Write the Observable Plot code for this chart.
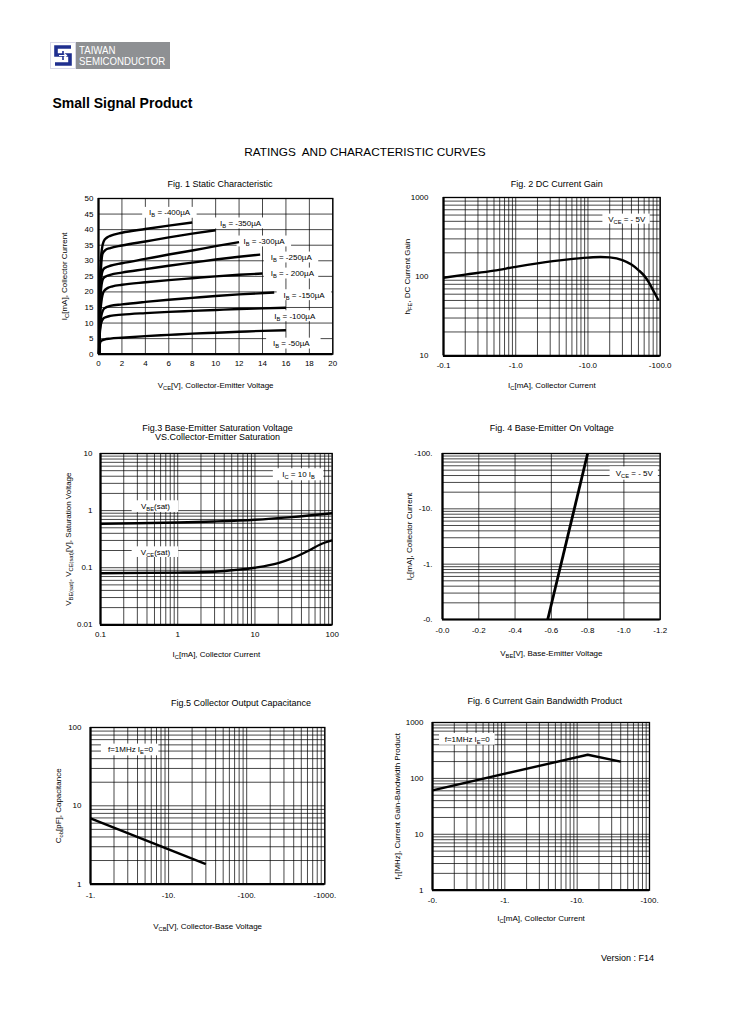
<!DOCTYPE html>
<html><head><meta charset="utf-8">
<script src="https://cdn.jsdelivr.net/npm/d3@7"></script>
<script src="https://cdn.jsdelivr.net/npm/@observablehq/plot@0.6"></script>
<style>
body{margin:0;background:#fff;font-family:"Liberation Sans",Arial,sans-serif;color:#000;}
#page{position:relative;width:729px;height:1032px;overflow:hidden;background:#fff;}
.t{position:absolute;white-space:pre;line-height:1;transform:translate(-50%,-50%);text-align:center;}
</style></head><body><div id="page"></div>
<script>
// ---------- DATA ----------
// Fig.1 static characteristic: [VCE (V), IC (mA)] per base current
const ibNames = ["-400µA","-350µA","-300µA","-250µA","- 200µA","-150µA","-100µA","-50µA"];
const ib400 = [[0.05,0],[0.1,18],[0.2,30],[0.3,34],[0.45,36.3],[0.7,37.4],[1,38],[2,39],[4,40.2],[6,41.3],[8,42.3]];
const ib350 = [[0.05,0],[0.12,17],[0.22,28],[0.35,32.3],[0.6,33.5],[1,34.1],[2,34.9],[4,36.2],[6,37.5],[8,38.7],[10,39.8]];
const ib300 = [[0.05,0],[0.12,15],[0.22,24],[0.4,27.2],[0.7,28],[1,28.4],[2,29.2],[4,30.6],[6,32],[8,33.3],[10,34.7],[12,36]];
const ib250 = [[0.05,0],[0.12,14],[0.22,21],[0.4,24.3],[0.7,25.1],[1,25.5],[2,26.2],[4,27.3],[6,28.4],[8,29.4],[10,30.4],[12,31.3],[13.8,32]];
const ib200 = [[0.05,0],[0.12,11],[0.25,17],[0.45,20.2],[0.8,21.3],[1.2,21.8],[2,22.3],[4,23.1],[6,23.8],[8,24.4],[10,25],[12,25.5],[14,25.9]];
const ib150 = [[0.05,0],[0.12,8],[0.25,12.5],[0.5,14.7],[1,15.5],[2,16],[4,16.8],[6,17.5],[8,18.1],[10,18.7],[12,19.2],[15,19.8]];
const ib100 = [[0.05,0],[0.1,6],[0.2,9.5],[0.4,11.4],[0.7,12],[1,12.3],[2,12.7],[4,13.2],[6,13.6],[8,13.9],[10,14.2],[12,14.5],[14,14.7],[16,14.9]];
const ib50  = [[0.05,0],[0.1,3],[0.2,4.2],[0.5,4.7],[1,5],[2,5.3],[4,5.8],[6,6.2],[8,6.6],[10,6.9],[12,7.2],[14,7.5],[16,7.7]];
const ibLabelX = [4.32,10.38,12.38,14.7,14.7,15.8,15.0,14.9];
const ibLabelY = [45.4,42.0,36.2,31.05,25.9,18.95,12.2,3.4];
const fig1XTicks = [0,2,4,6,8,10,12,14,16,18,20];
const fig1YTicks = [0,5,10,15,20,25,30,35,40,45,50];

// Fig.2 DC current gain: [IC (mA), hFE]
const hfe = [[0.1,97],[0.2,106],[0.5,119],[1,133],[2,147],[5,164],[10,174],[15,177],[20,175],[30,162],[40,142],[50,121],[60,103],[70,84],[80,67],[95,50]];
const fig2XTicks = [0.1,1,10,100], fig2XLabels = ["-0.1","-1.0","-10.0","-100.0"];
const fig2YTicks = [10,100,1000], fig2YLabels = ["10","100","1000"];

// Fig.3 saturation voltages: [IC (mA), V]
const vbeSat = [[0.1,0.59],[0.3,0.6],[1,0.62],[3,0.645],[10,0.69],[30,0.77],[100,0.9]];
const vceSat = [[0.1,0.08],[1,0.082],[3,0.085],[5,0.09],[10,0.1],[20,0.12],[30,0.145],[50,0.2],[70,0.255],[100,0.3]];
const fig3XTicks = [0.1,1,10,100], fig3XLabels = ["0.1","1","10","100"];
const fig3YTicks = [0.01,0.1,1,10], fig3YLabels = ["0.01","0.1","1","10"];

// Fig.4 base-emitter on voltage: [-VBE (V), -IC (mA)]
const vbeOn = [[0.58,0.1],[0.8,100]];
const fig4XTicks = [0,0.2,0.4,0.6,0.8,1.0,1.2], fig4XLabels = ["-0.0","-0.2","-0.4","-0.6","-0.8","-1.0","-1.2"];
const fig4YTicks = [0.1,1,10,100], fig4YLabels = ["-0.","-1.","-10.","-100."];

// Fig.5 output capacitance: [-VCB (V), Cob (pF)]
const cob = [[1,6.9],[30,1.8]];
const fig5XTicks = [1,10,100,1000], fig5XLabels = ["-1.","-10.","-100.","-1000."];
const fig5YTicks = [1,10,100], fig5YLabels = ["1","10","100"];

// Fig.6 gain-bandwidth product: [-IC (mA), fT (MHz)]
const ft = [[0.1,61],[14,265],[40,200]];
const fig6XTicks = [0.1,1,10,100], fig6XLabels = ["-0.","-1.","-10.","-100."];
const fig6YTicks = [1,10,100,1000], fig6YLabels = ["1","10","100","1000"];

// ---------- HELPERS ----------
const FONT = "'Liberation Sans', Arial, sans-serif";
const page = document.getElementById("page");
const SVGNS = "http://www.w3.org/2000/svg";
function logGrid(lo, hi){
  const out=[]; const e0=Math.round(Math.log10(lo)), e1=Math.round(Math.log10(hi));
  for(let e=e0;e<e1;e++) for(let k=1;k<10;k++) out.push(+(k*Math.pow(10,e)).toPrecision(6));
  out.push(hi); return out;
}
function fmt(ticks, labels){ return d => { const i = ticks.findIndex(t => Math.abs(t-d) < 1e-9*Math.max(1,Math.abs(t))); return i<0 ? "" : labels[i]; }; }
function subify(root){
  root.querySelectorAll("text").forEach(t=>{
    const leaves = t.querySelectorAll("tspan").length ? [...t.querySelectorAll("tspan")] : [t];
    leaves.forEach(n=>{
      const s=n.textContent; if(!s.includes("_{")) return;
      n.textContent="";
      const re=/_\{([^}]*)\}/g; let last=0, m, up=false;
      const add=(txt, sub)=>{ const sp=document.createElementNS(SVGNS,"tspan"); sp.textContent=txt;
        if(sub){ sp.setAttribute("font-size","72%"); sp.setAttribute("dy","2"); }
        else if(up){ sp.setAttribute("dy","-2"); }
        n.appendChild(sp); up=!!sub; };
      while((m=re.exec(s))){ if(m.index>last) add(s.slice(last,m.index),false); add(m[1],true); last=re.lastIndex; }
      if(last<s.length) add(s.slice(last),false);
    });
  });
}
function txt(s, cx, cy, size, extra={}){
  const d=document.createElement("div"); d.className="t"; d.textContent=s;
  d.style.left=cx+"px"; d.style.top=cy+"px"; d.style.fontSize=size+"px";
  Object.assign(d.style, extra); page.appendChild(d); return d;
}
const ML=48, MR=10, MT=10, MB=50;
function chart(fl, ft_, W, H, opts){
  const p = Plot.plot({
    width: ML+W+MR, height: MT+H+MB, marginLeft: ML, marginRight: MR, marginTop: MT, marginBottom: MB,
    style: {fontFamily: FONT, fontSize: "8px", background: "transparent", overflow: "visible", color: "#000"},
    ...opts
  });
  p.style.position="absolute"; p.style.left=(fl-ML)+"px"; p.style.top=(ft_-MT)+"px";
  subify(p); page.appendChild(p); return p;
}
const gridStyle = {stroke:"#000", strokeWidth:0.9, strokeOpacity:0.8};
const curveStyle = {stroke:"#000", strokeWidth:2.4, strokeLinejoin:"round", strokeLinecap:"butt"};
function axes(xDomain, yDomain){
  return [
    Plot.frame({stroke:"#000", strokeWidth:1.3}),
    Plot.ruleX([xDomain[0]], {stroke:"#000", strokeWidth:2.2}),
    Plot.ruleY([yDomain[0]], {stroke:"#000", strokeWidth:2.2})
  ];
}

// ---------- PAGE HEADER ----------
(function logo(){
  const s=document.createElementNS(SVGNS,"svg");
  s.setAttribute("width","26"); s.setAttribute("height","27");
  s.style.position="absolute"; s.style.left="50px"; s.style.top="42px";
  s.innerHTML = `<rect x="0.5" y="0.5" width="25" height="26" fill="#fff" stroke="#d8d8e8"/>
  <path d="M21 5 H6 V13 H20 V22 H5" fill="none" stroke="#1f2f8f" stroke-width="3.6"/>
  <path d="M13 9 V18" stroke="#1f2f8f" stroke-width="1.6"/>
  <path d="M9 13.5 H16 M14 11.5 L16.5 13.5 L14 15.5" fill="none" stroke="#fff" stroke-width="1.2"/>`;
  page.appendChild(s);
  const b=document.createElement("div");
  Object.assign(b.style,{position:"absolute",left:"76px",top:"42px",width:"94px",height:"27px",background:"#8e9093"});
  page.appendChild(b);
  const t1=document.createElement("div");
  t1.innerHTML="TAIWAN<br>SEMICONDUCTOR";
  Object.assign(t1.style,{position:"absolute",left:"79px",top:"45px",color:"#fff",fontSize:"10.5px",lineHeight:"10.5px",fontFamily:FONT,transform:"scaleX(0.92)",transformOrigin:"left top",letterSpacing:"0px"});
  page.appendChild(t1);
})();
txt("Small Signal Product", 122.5, 103, 14, {fontWeight:"bold"});
txt("RATINGS  AND CHARACTERISTIC CURVES", 365, 153, 11.8);
txt("Version : F14", 627.5, 957.5, 9);

// ---------- FIG 1 ----------
txt("Fig. 1 Static Characteristic", 220, 184, 9);
const ibSets = [ib400, ib350, ib300, ib250, ib200, ib150, ib100, ib50];
const fig1Rows = ibSets.flatMap((pts,k)=>pts.map(([v,i])=>({ib:ibNames[k], v, i})));
const fig1Labels = ibNames.map((n,k)=>({text:"I_{B} = "+n, x:ibLabelX[k], y:ibLabelY[k]}));
chart(97.7, 198.3, 234.3, 155.7, {
  x: {domain:[0,20], ticks: fig1XTicks, tickSize:0, tickPadding:6, label:"V_{CE}[V], Collector-Emitter Voltage", labelAnchor:"center", labelOffset:34, labelArrow:"none"},
  y: {domain:[0,50], ticks: fig1YTicks, tickSize:0, tickPadding:5, label:"I_{C}[mA], Collector Current", labelAnchor:"center", labelOffset:37, labelArrow:"none"},
  marks: [
    Plot.ruleX(fig1XTicks, gridStyle),
    Plot.ruleY(fig1YTicks, gridStyle),
    Plot.rect(fig1Labels, {x1: d=>d.x-0.55, x2: d=>d.x+4.1, y1: d=>d.y-1.75, y2: d=>d.y+1.75, fill:"#fff"}),
    Plot.line(fig1Rows, {x:"v", y:"i", z:"ib", curve:"monotone-x", ...curveStyle}),
    Plot.text(fig1Labels, {x:"x", y:"y", text:"text", textAnchor:"start", fontSize:8, fill:"#000"}),
    ...axes([0,20],[0,50])
  ]
});

// ---------- FIG 2 ----------
txt("Fig. 2 DC Current Gain", 556.7, 184, 9);
chart(443.3, 196.7, 216.7, 158.3, {
  x: {type:"log", domain:[0.1,100], ticks: fig2XTicks, tickFormat: fmt(fig2XTicks, fig2XLabels), tickSize:0, tickPadding:7, label:"I_{C}[mA], Collector Current", labelAnchor:"center", labelOffset:32, labelArrow:"none"},
  y: {type:"log", domain:[10,1000], ticks: fig2YTicks, tickFormat: fmt(fig2YTicks, fig2YLabels), tickSize:0, tickPadding:15, label:"h_{FE}, DC Current Gain", labelAnchor:"center", labelOffset:39, labelArrow:"none"},
  marks: [
    Plot.ruleX(logGrid(0.1,100), gridStyle),
    Plot.ruleY(logGrid(10,1000), gridStyle),
    Plot.rect([{x1:16.1,x2:72.9,y1:461,y2:617}], {x1:"x1",x2:"x2",y1:"y1",y2:"y2",fill:"#fff"}),
    Plot.text([{x:34.4,y:533,t:"V_{CE} = - 5V"}], {x:"x",y:"y",text:"t",fontSize:8,fill:"#000"}),
    Plot.line(hfe, {x:d=>d[0], y:d=>d[1], curve:"monotone-x", ...curveStyle}),
    ...axes([0.1,100],[10,1000])
  ]
});

// ---------- FIG 3 ----------
txt("Fig.3 Base-Emitter Saturation Voltage", 217.5, 427.7, 9);
txt("VS.Collector-Emitter Saturation", 217.5, 437.2, 9);
chart(100, 452.7, 231.7, 171.3, {
  x: {type:"log", domain:[0.1,100], ticks: fig3XTicks, tickFormat: fmt(fig3XTicks, fig3XLabels), tickSize:0, tickPadding:7, label:"I_{C}[mA], Collector Current", labelAnchor:"center", labelOffset:32, labelArrow:"none"},
  y: {type:"log", domain:[0.01,10], ticks: fig3YTicks, tickFormat: fmt(fig3YTicks, fig3YLabels), tickSize:0, tickPadding:8, label:"V_{BE(sat)}, V_{CE(sat)}[V], Saturation Voltage", labelAnchor:"center", labelOffset:35.5, labelArrow:"none"},
  marks: [
    Plot.ruleX(logGrid(0.1,100), gridStyle),
    Plot.ruleY(logGrid(0.01,10), gridStyle),
    Plot.rect([{x1:17.3,x2:78,y1:3.33,y2:5.4},{x1:0.257,x2:1.03,y1:0.927,y2:1.485},{x1:0.257,x2:1.03,y1:0.151,y2:0.232}], {x1:"x1",x2:"x2",y1:"y1",y2:"y2",fill:"#fff"}),
    Plot.text([{x:36.7,y:4.24,t:"I_{C} = 10 I_{B}"},{x:0.515,y:1.175,t:"V_{BE}(sat)"},{x:0.515,y:0.1875,t:"V_{CE}(sat)"}], {x:"x",y:"y",text:"t",fontSize:8,fill:"#000"}),
    Plot.line(vbeSat, {x:d=>d[0], y:d=>d[1], curve:"monotone-x", ...curveStyle}),
    Plot.line(vceSat, {x:d=>d[0], y:d=>d[1], curve:"monotone-x", ...curveStyle}),
    ...axes([0.1,100],[0.01,10])
  ]
});

// ---------- FIG 4 ----------
txt("Fig. 4 Base-Emitter On Voltage", 551.7, 428.3, 9);
chart(442.3, 453.3, 217.7, 166, {
  x: {domain:[0,1.2], ticks: fig4XTicks, tickFormat: fmt(fig4XTicks, fig4XLabels), tickSize:0, tickPadding:8, label:"V_{BE}[V], Base-Emitter Voltage", labelAnchor:"center", labelOffset:37, labelArrow:"none"},
  y: {type:"log", domain:[0.1,100], ticks: fig4YTicks, tickFormat: fmt(fig4YTicks, fig4YLabels), tickSize:0, tickPadding:10, label:"I_{C}[mA], Collector Current", labelAnchor:"center", labelOffset:36, labelArrow:"none"},
  marks: [
    Plot.ruleX(fig4XTicks, gridStyle),
    Plot.ruleY(logGrid(0.1,100), gridStyle),
    Plot.rect([{x1:0.924,x2:1.19,y1:32.9,y2:57.3}], {x1:"x1",x2:"x2",y1:"y1",y2:"y2",fill:"#fff"}),
    Plot.text([{x:1.057,y:43.5,t:"V_{CE} = - 5V"}], {x:"x",y:"y",text:"t",fontSize:8,fill:"#000"}),
    Plot.line(vbeOn, {x:d=>d[0], y:d=>d[1], ...curveStyle, strokeWidth:2.8}),
    ...axes([0,1.2],[0.1,100])
  ]
});

// ---------- FIG 5 ----------
txt("Fig.5 Collector Output Capacitance", 241, 703.3, 9);
chart(90, 726.7, 234.3, 156.6, {
  x: {type:"log", domain:[1,1000], ticks: fig5XTicks, tickFormat: fmt(fig5XTicks, fig5XLabels), tickSize:0, tickPadding:8, label:"V_{CB}[V], Collector-Base Voltage", labelAnchor:"center", labelOffset:45, labelArrow:"none"},
  y: {type:"log", domain:[1,100], ticks: fig5YTicks, tickFormat: fmt(fig5YTicks, fig5YLabels), tickSize:0, tickPadding:9, label:"C_{ob}[pF], Capacitance", labelAnchor:"center", labelOffset:35.5, labelArrow:"none"},
  marks: [
    Plot.ruleX(logGrid(1,1000), gridStyle),
    Plot.ruleY(logGrid(1,100), gridStyle),
    Plot.rect([{x1:1.38,x2:7.5,y1:43.5,y2:61.4}], {x1:"x1",x2:"x2",y1:"y1",y2:"y2",fill:"#fff"}),
    Plot.text([{x:3.25,y:51.9,t:"f=1MHz I_{E}=0"}], {x:"x",y:"y",text:"t",fontSize:8,fill:"#000"}),
    Plot.line(cob, {x:d=>d[0], y:d=>d[1], ...curveStyle}),
    ...axes([1,1000],[1,100])
  ]
});

// ---------- FIG 6 ----------
txt("Fig. 6 Current Gain Bandwidth Product", 544.7, 700.7, 9);
chart(432.3, 722.3, 217, 167.7, {
  x: {type:"log", domain:[0.1,100], ticks: fig6XTicks, tickFormat: fmt(fig6XTicks, fig6XLabels), tickSize:0, tickPadding:7, label:"I_{C}[mA], Collector Current", labelAnchor:"center", labelOffset:31, labelArrow:"none"},
  y: {type:"log", domain:[1,1000], ticks: fig6YTicks, tickFormat: fmt(fig6YTicks, fig6YLabels), tickSize:0, tickPadding:9, label:"f_{T}[MHz], Current Gain-Bandwidth Product", labelAnchor:"center", labelOffset:38, labelArrow:"none"},
  marks: [
    Plot.ruleX(logGrid(0.1,100), gridStyle),
    Plot.ruleY(logGrid(1,1000), gridStyle),
    Plot.rect([{x1:0.125,x2:0.736,y1:393,y2:636}], {x1:"x1",x2:"x2",y1:"y1",y2:"y2",fill:"#fff"}),
    Plot.text([{x:0.302,y:502,t:"f=1MHz I_{E}=0"}], {x:"x",y:"y",text:"t",fontSize:8,fill:"#000"}),
    Plot.line(ft, {x:d=>d[0], y:d=>d[1], ...curveStyle}),
    ...axes([0.1,100],[1,1000])
  ]
});
</script></body></html>
